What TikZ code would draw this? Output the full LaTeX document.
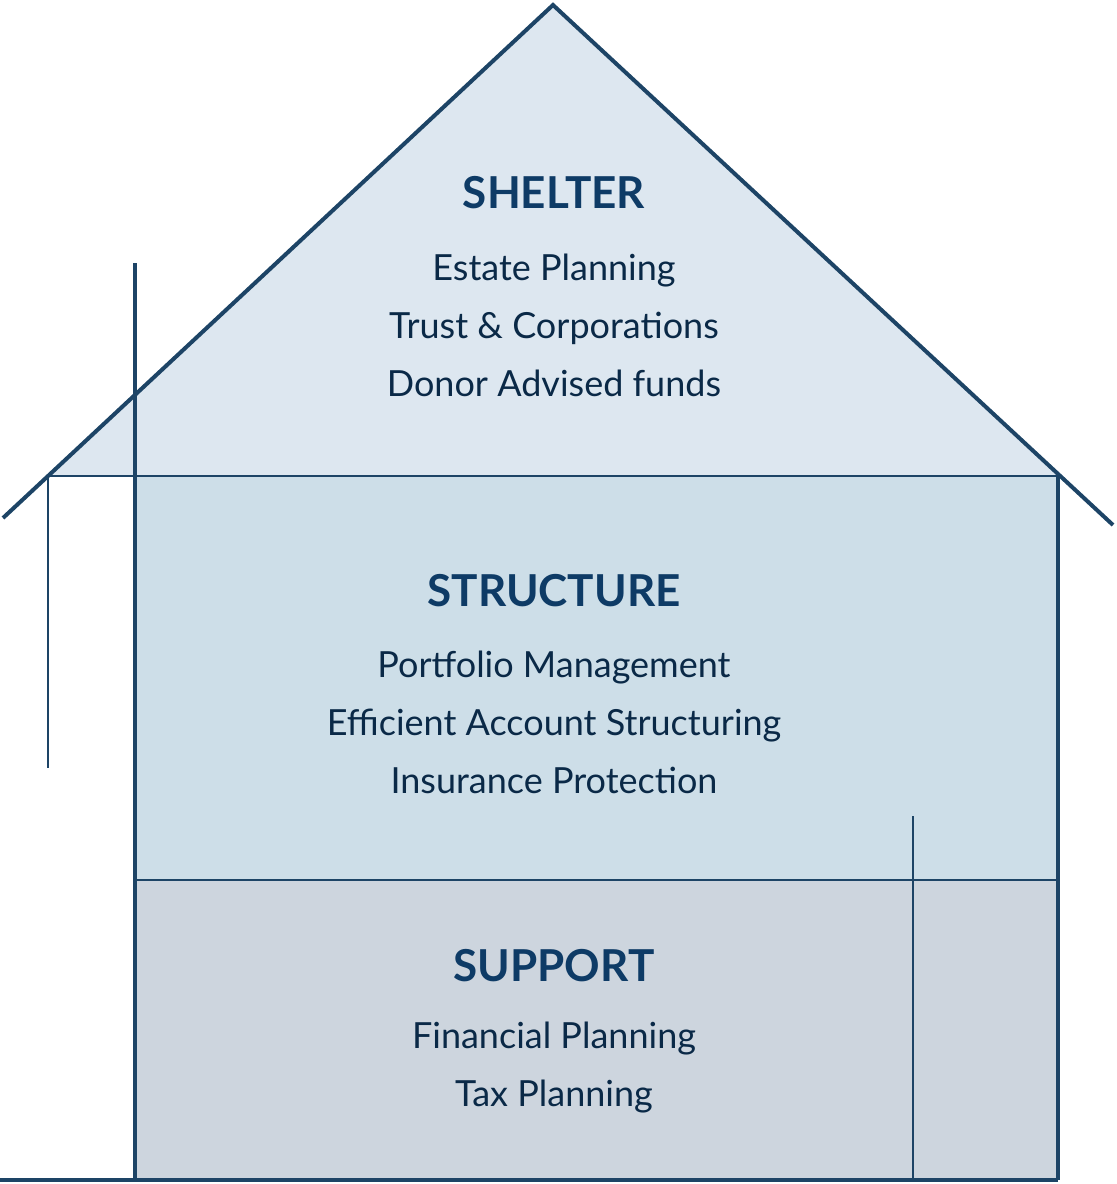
\documentclass[tikz,border=0pt]{standalone}
\usepackage{fontspec}
\setmainfont{Lato}
\begin{document}
\begin{tikzpicture}[x=0.5pt,y=-0.5pt,
  thick line/.style={draw=lc,line width=2pt},
  thin line/.style={draw=lc,line width=0.8pt},
  ttl/.style={text=tc,font=\fontsize{22}{26}\selectfont\bfseries},
  itm/.style={text=tc!70!black,font=\fontsize{18}{29}\selectfont,align=center}]
\definecolor{lc}{HTML}{1D4466}
\definecolor{tc}{HTML}{0E3B66}
\definecolor{roof}{HTML}{DDE7F0}
\definecolor{mid}{HTML}{CDDEE8}
\definecolor{low}{HTML}{CDD5DE}
\useasboundingbox (0,0) rectangle (1116,1184);
\fill[roof] (553,5) -- (48,476) -- (1058,476) -- cycle;
\fill[mid] (135,476) rectangle (1058,880);
\fill[low] (135,880) rectangle (1058,1180);
\draw[thin line] (48,476) -- (1058,476);
\draw[thin line] (135,880) -- (1058,880);
\draw[thin line] (48,476) -- (48,768);
\draw[thin line] (913,816) -- (913,1180);
\draw[thick line] (3,518) -- (553,5) -- (1113,525);
\draw[thick line] (135,263) -- (135,1180);
\draw[thick line] (1058,476) -- (1058,1180);
\draw[thick line] (0,1180) -- (1058,1180);
\node[ttl] (t1) at (554,193) {SHELTER};
\node[itm] (i1) at (554,325) {Estate Planning\\Trust \& Corporations\\Donor Advised funds};
\node[ttl] (t2) at (554,591) {STRUCTURE};
\node[itm] (i2) at (554,722) {Portfolio Management\\Efficient Account Structuring\\Insurance Protection};
\node[ttl] (t3) at (554,966) {SUPPORT};
\node[itm] (i3) at (554,1068) {Financial Planning\\Tax Planning};
\end{tikzpicture}
\end{document}
